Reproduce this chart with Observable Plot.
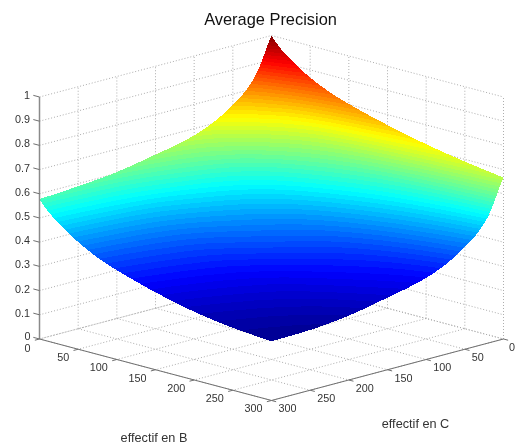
<!DOCTYPE html>
<html>
<head>
<meta charset="utf-8">
<script src="https://cdn.jsdelivr.net/npm/d3@7"></script>
<script src="https://cdn.jsdelivr.net/npm/@observablehq/plot@0.6"></script>
<style>
  html, body { margin: 0; padding: 0; background: #fff; }
  svg { filter: blur(0.4px); }
</style>
</head>
<body>
<div id="chart"></div>
<script>
const titleText = "Average Precision";
const labelB = "effectif en B";
const labelC = "effectif en C";

const bTicks = [0, 50, 100, 150, 200, 250, 300];
const cTicks = [0, 50, 100, 150, 200, 250, 300];
const zTicks = [0, 0.1, 0.2, 0.3, 0.4, 0.5, 0.6, 0.7, 0.8, 0.9, 1];

// Sample positions on both horizontal axes
const effectifB = [0, 5, 10, 15, 20, 30, 40, 50, 75, 100, 125, 150, 200, 250, 300];
const effectifC = [0, 5, 10, 15, 20, 30, 40, 50, 75, 100, 125, 150, 200, 250, 300];

// Average precision: one row per effectifB, one column per effectifC
const precision = [
  [1.000, .965, .925, .888, .856, .812, .780, .755, .705, .672, .651, .635, .605, .589, .578],
  [ .980, .950, .911, .874, .842, .798, .766, .741, .690, .656, .635, .618, .587, .570, .558],
  [ .962, .934, .899, .863, .832, .788, .755, .730, .678, .643, .620, .603, .571, .553, .540],
  [ .947, .920, .886, .851, .820, .777, .745, .720, .667, .631, .608, .590, .557, .538, .525],
  [ .934, .907, .874, .840, .810, .768, .736, .711, .657, .620, .597, .578, .544, .525, .512],
  [ .911, .884, .852, .819, .791, .750, .718, .693, .638, .600, .576, .556, .520, .501, .487],
  [ .888, .861, .829, .797, .769, .728, .696, .671, .616, .578, .553, .533, .496, .477, .463],
  [ .869, .842, .810, .778, .750, .709, .677, .652, .598, .559, .534, .514, .476, .456, .443],
  [ .830, .802, .769, .736, .708, .668, .637, .612, .557, .519, .493, .472, .434, .414, .400],
  [ .802, .773, .739, .706, .677, .637, .606, .581, .526, .486, .460, .440, .402, .383, .369],
  [ .778, .749, .714, .680, .651, .610, .579, .554, .499, .459, .434, .415, .377, .357, .343],
  [ .757, .727, .691, .657, .628, .586, .554, .529, .474, .435, .411, .392, .354, .334, .320],
  [ .720, .689, .651, .616, .586, .544, .512, .486, .432, .394, .370, .351, .316, .297, .282],
  [ .691, .658, .619, .583, .552, .509, .477, .451, .398, .362, .340, .322, .288, .268, .258],
  [ .667, .632, .592, .555, .523, .479, .447, .422, .371, .337, .315, .298, .266, .249, .245]
];

// MATLAB jet colormap anchors
const jetStops = [0, 0.125, 0.375, 0.625, 0.875, 1];
const jetColors = ["#000090", "#0000ff", "#00ffff", "#ffff00", "#ff0000", "#800000"];
const zMin = 0.243, zMax = 1, levelCount = 64;

// Orthographic view of the 3D box: horizontal is B - C, height falls with depth
const tilt = 0.000847;
const U = (b, c) => b - c;
const V = (b, c, z) => z - (b + c) * tilt;

// Shading only: draw the measured table as a smooth mesh (monotone cubic between samples)
const meshSteps = 3;
function smoothAt(xs, ys, targets) {
  const n = xs.length, s = [], m = new Array(n);
  for (let i = 0; i < n - 1; i++) s.push((ys[i + 1] - ys[i]) / (xs[i + 1] - xs[i]));
  for (let i = 1; i < n - 1; i++) {
    const h0 = xs[i] - xs[i - 1], h1 = xs[i + 1] - xs[i];
    const p = (s[i - 1] * h1 + s[i] * h0) / (h0 + h1);
    m[i] = (Math.sign(s[i - 1]) + Math.sign(s[i])) * Math.min(Math.abs(s[i - 1]), Math.abs(s[i]), 0.5 * Math.abs(p));
  }
  m[0] = (3 * s[0] - m[1]) / 2;
  m[n - 1] = (3 * s[n - 2] - m[n - 2]) / 2;
  return targets.map((x) => {
    const i = Math.min(d3.bisectRight(xs, x) - 1, n - 2);
    const h = xs[i + 1] - xs[i], t = (x - xs[i]) / h, t2 = t * t, t3 = t2 * t;
    return (2 * t3 - 3 * t2 + 1) * ys[i] + (t3 - 2 * t2 + t) * h * m[i]
      + (-2 * t3 + 3 * t2) * ys[i + 1] + (t3 - t2) * h * m[i + 1];
  });
}
const refine = (xs) => xs.slice(0, -1).flatMap((x, i) =>
  d3.range(meshSteps).map((k) => x + (k / meshSteps) * (xs[i + 1] - x))).concat(xs[xs.length - 1]);
const meshB = refine(effectifB), meshC = refine(effectifC);
const rowsOnC = precision.map((row) => smoothAt(effectifC, row, meshC));
const columns = meshC.map((_, j) => smoothAt(effectifB, rowsOnC.map((r) => r[j]), meshB));
const meshZ = (i, j) => columns[j][i];
const lastB = meshB.length - 1, lastC = meshC.length - 1;
const between = (a, za, b, zb, level) => a + ((level - za) / (zb - za)) * (b - a);

// The surface falls along both axes, so { z >= level } is one region with one outline.
// Painted from the lowest level up, the outlines give the flat colour bands.
function levelOutline(level) {
  const pts = [];
  const add = (b, c, z) => pts.push({ level, b, c, z });
  const backAlongC0 = (from) => { for (let m = from; m >= 0; m--) add(meshB[m], 0, meshZ(m, 0)); };
  for (let j = 0; j <= lastC && meshZ(0, j) >= level; j++) add(0, meshC[j], meshZ(0, j));
  for (let i = 0; i <= lastB; i++) {
    if (meshZ(i, 0) < level) {
      add(between(meshB[i - 1], meshZ(i - 1, 0), meshB[i], meshZ(i, 0), level), 0, level);
      backAlongC0(i - 1);
      return pts;
    }
    if (meshZ(i, lastC) >= level) {
      add(meshB[i], 300, meshZ(i, lastC));
    } else {
      if (i > 0 && meshZ(i - 1, lastC) >= level) {
        add(between(meshB[i - 1], meshZ(i - 1, lastC), meshB[i], meshZ(i, lastC), level), 300, level);
      }
      let j = 0;
      while (meshZ(i, j + 1) >= level) j++;
      add(meshB[i], between(meshC[j], meshZ(i, j), meshC[j + 1], meshZ(i, j + 1), level), level);
    }
  }
  for (let j = lastC; j >= 0; j--) if (meshZ(lastB, j) >= level) add(300, meshC[j], meshZ(lastB, j));
  backAlongC0(lastB - 1);
  return pts;
}

const step = (zMax - zMin) / levelCount;
const bandRows = d3.range(levelCount).flatMap((k) => {
  const lo = zMin + k * step;
  return levelOutline(lo).map((p) => ({ band: k, shade: lo + step / 2, u: U(p.b, p.c), v: V(p.b, p.c, p.z) }));
});

const gridColor = "#adadad";
const axisColor = "#707070";
const textColor = "#333333";
const dots = { stroke: gridColor, strokeWidth: 1, strokeDasharray: "1,2" };
const axisLine = { stroke: axisColor, strokeWidth: 1 };
const tickFont = { fontSize: 10.8, fill: textColor, lineAnchor: "middle" };
const nonZero = (t) => t !== 0;
const zeroOnly = [0];

const chart = Plot.plot({
  width: 515,
  height: 444,
  margin: 0,
  style: { fontFamily: "Liberation Sans, Arial, sans-serif", background: "#fff" },
  x: { domain: [-300, 300], range: [39, 503], axis: null },
  y: { domain: [0, 1], range: [277, 35], axis: null },
  color: {
    type: "linear",
    domain: jetStops.map((t) => zMin + t * (zMax - zMin)),
    range: jetColors
  },
  marks: [
    // floor grid
    Plot.link(bTicks, { x1: (b) => U(b, 0), y1: (b) => V(b, 0, 0), x2: (b) => U(b, 300), y2: (b) => V(b, 300, 0), ...dots }),
    Plot.link(cTicks, { x1: (c) => U(0, c), y1: (c) => V(0, c, 0), x2: (c) => U(300, c), y2: (c) => V(300, c, 0), ...dots }),
    // back wall at B = 0
    Plot.link(zTicks, { x1: () => U(0, 300), y1: (z) => V(0, 300, z), x2: () => U(0, 0), y2: (z) => V(0, 0, z), ...dots }),
    Plot.link(cTicks, { x1: (c) => U(0, c), y1: (c) => V(0, c, 0), x2: (c) => U(0, c), y2: (c) => V(0, c, 1), ...dots }),
    // back wall at C = 0
    Plot.link(zTicks, { x1: () => U(0, 0), y1: (z) => V(0, 0, z), x2: () => U(300, 0), y2: (z) => V(300, 0, z), ...dots }),
    Plot.link(bTicks, { x1: (b) => U(b, 0), y1: (b) => V(b, 0, 0), x2: (b) => U(b, 0), y2: (b) => V(b, 0, 1), ...dots }),

    // surface
    Plot.line(bandRows, {
      x: "u", y: "v", z: "band",
      fill: "shade", stroke: "none",
      curve: "linear-closed",
      shapeRendering: "crispEdges"
    }),

    // axis lines
    Plot.link([0], { x1: () => U(0, 300), y1: () => V(0, 300, 0), x2: () => U(0, 300), y2: () => V(0, 300, 1), stroke: "#8a8a8a", strokeWidth: 1.5 }),
    Plot.link([0], { x1: () => U(0, 300), y1: () => V(0, 300, 0), x2: () => U(300, 300), y2: () => V(300, 300, 0), ...axisLine }),
    Plot.link([0], { x1: () => U(300, 300), y1: () => V(300, 300, 0), x2: () => U(300, 0), y2: () => V(300, 0, 0), ...axisLine }),

    // tick marks
    Plot.link(zTicks, { x1: () => U(0, 300), y1: (z) => V(0, 300, z), x2: () => U(-8, 300), y2: (z) => V(-8, 300, z), ...axisLine }),
    Plot.link(bTicks, { x1: (b) => U(b, 300), y1: (b) => V(b, 300, 0), x2: (b) => U(b, 306), y2: (b) => V(b, 306, 0), ...axisLine }),
    Plot.link(cTicks, { x1: (c) => U(300, c), y1: (c) => V(300, c, 0), x2: (c) => U(306, c), y2: (c) => V(306, c, 0), ...axisLine }),

    // tick labels
    Plot.text(zTicks.filter(nonZero), { x: () => U(0, 300), y: (z) => V(0, 300, z), text: (z) => String(z), textAnchor: "end", dx: -9.5, dy: -1.5, ...tickFont }),
    Plot.text(bTicks.filter(nonZero), { x: (b) => U(b, 300), y: (b) => V(b, 300, 0), text: (b) => String(b), textAnchor: "end", dx: -9, dy: 8.5, ...tickFont }),
    Plot.text(cTicks.filter(nonZero), { x: (c) => U(300, c), y: (c) => V(300, c, 0), text: (c) => String(c), textAnchor: "start", dx: 7, dy: 8.5, ...tickFont }),
    Plot.text(zeroOnly, { x: () => U(0, 300), y: () => V(0, 300, 0), text: (z) => String(z), textAnchor: "end", dx: -9, dy: -2.5, ...tickFont }),
    Plot.text(zeroOnly, { x: () => U(0, 300), y: () => V(0, 300, 0), text: (b) => String(b), textAnchor: "end", dx: -9, dy: 9.5, ...tickFont }),
    Plot.text(zeroOnly, { x: () => U(300, 0), y: () => V(300, 0, 0), text: (c) => String(c), textAnchor: "start", dx: 5.5, dy: 8.5, ...tickFont }),

    // axis titles and chart title
    Plot.text([labelB], { x: () => U(150, 300), y: () => V(150, 300, 0), dx: -1.5, dy: 68, fontSize: 12.7, fill: textColor }),
    Plot.text([labelC], { x: () => U(300, 150), y: () => V(300, 150, 0), dx: 28, dy: 54.5, fontSize: 12.7, fill: textColor }),
    Plot.text([titleText], { frameAnchor: "top", dx: 12.5, dy: 19, lineAnchor: "middle", fontSize: 16.4, fill: "#111" })
  ]
});
document.getElementById("chart").appendChild(chart);
</script>
</body>
</html>
